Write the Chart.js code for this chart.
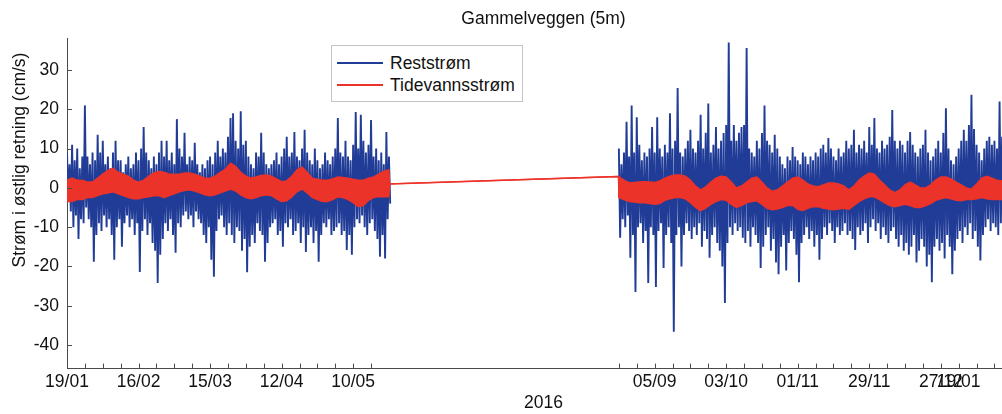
<!DOCTYPE html>
<html>
<head>
<meta charset="utf-8">
<title>Gammelveggen (5m)</title>
<script src="https://cdn.jsdelivr.net/npm/chart.js@4.4.1/dist/chart.umd.min.js"></script>
<style>
  html, body { margin: 0; padding: 0; background: #fff; overflow: hidden; }
  #wrap { position: relative; width: 1002px; height: 414px; overflow: hidden; }
  #c { position: absolute; left: 0; top: 0; }
  #legend {
    position: absolute; left: 331px; top: 45px; width: 192px; height: 57px;
    border: 1px solid #c4c4c4; background: #fff; box-sizing: border-box;
    font: 17.5px "Liberation Sans", Arial, sans-serif; color: #111;
  }
  #legend .item { position: absolute; left: 5px; height: 20px; display: flex; align-items: center; white-space: nowrap; }
  #legend .swatch { display: inline-block; width: 46px; height: 2px; margin-right: 7px; }
</style>
</head>
<body>
<div id="wrap">
  <canvas id="c" width="1020" height="414"></canvas>
  <div id="legend"></div>
</div>
<script>
// Residual current (Reststrøm), cm/s: daily upper and lower excursions.
// Deployment 1 starts 19/01 (day 0), deployment 2 starts day 216.
const restStart1 = 0;
const restHigh1 = [
  9, 6, 11, 7, 10, 5, 8, 21, 8, 6,
  9, 7, 13.5, 9, 12, 6, 8, 5, 9, 12,
  7, 7, 4, 6, 8, 5, 6, 9, 7, 10,
  15.5, 9, 7, 5, 8, 6, 9, 12, 8, 12,
  7, 9, 6, 17.5, 10, 8, 14, 6, 8, 7,
  11.5, 6, 4, 6, 5, 7, 8, 6, 9, 12,
  8, 10, 9, 13, 17.8, 19, 12, 10, 19.5, 11,
  12, 8, 6, 5, 9, 8, 14, 9, 6, 5,
  6, 7, 9, 6, 8, 10, 13, 8, 9, 14.2,
  8, 7, 10, 14.8, 9, 7, 6, 10, 7, 5,
  6, 9, 7, 6, 8, 10, 17.8, 9, 8, 12,
  8, 7, 11, 19.3, 10, 18.6, 12, 9, 11, 17.3,
  8, 10, 7, 9, 6, 14.2, 8
];
const restLow1 = [
  -3, -6, -10, -7, -13, -8, -9, -5, -8, -10,
  -18.8, -12, -9, -11, -7, -10, -8, -12, -18.3, -10,
  -8, -15, -9, -7, -10, -8, -12, -9, -21.4, -11,
  -8, -12, -9, -14, -16, -24.2, -17, -13, -9, -11,
  -8, -12, -16.5, -9, -10, -7, -6, -8, -7, -10,
  -6, -8, -9, -12, -14, -10, -18.3, -22.6, -11, -8,
  -7, -10, -12, -9, -12, -14, -10, -11, -16, -13,
  -21.5, -15, -12, -14, -9, -11, -12, -18.8, -14, -10,
  -9, -8, -12, -11, -15, -9, -10, -8, -12, -11,
  -9, -14, -10, -16.3, -12, -10, -14, -11, -18.8, -12,
  -9, -10, -8, -12, -11, -10, -9, -12, -11, -15.8,
  -12, -17, -10, -8, -9, -7, -10, -12, -9, -8,
  -11, -13, -17.5, -12, -18, -8, -4
];
const restStart2 = 216;
const restHigh2 = [
  10, 6, 9, 16.8, 8, 21, 9, 18, 11, 7,
  9, 8, 10, 15.5, 9, 18, 10, 8, 11, 9,
  19, 10, 12, 25.4, 9, 8, 10, 12, 14.8, 10,
  9, 12, 18.6, 10, 14, 21.5, 9, 11, 15.5, 10,
  12, 14, 16, 37, 12, 16, 12, 14, 15.5, 16,
  35.6, 10, 9, 8, 12, 10, 14, 21, 12, 11,
  9, 13.5, 10, 8, 6, 5, 8, 7, 10.4, 8,
  7, 6, 9, 8, 6, 8, 7, 9, 8, 10,
  11, 9, 12.7, 10, 8, 7, 10, 8, 9, 12,
  10, 11, 14.8, 9, 11, 10, 12, 9, 15.5, 11,
  17.8, 10, 9, 12, 10, 11, 13, 19.8, 12, 10,
  12, 11, 9, 12, 14.2, 11, 9, 8, 10, 11,
  14.8, 9, 7, 8, 10, 12, 9, 14, 20.3, 10,
  7, 6, 8, 10, 12, 14.8, 12, 16, 23.7, 15,
  11, 9, 7, 10, 12, 13, 11, 12, 10, 22,
  13, 12
];
const restLow2 = [
  -12.7, -8, -10, -7, -17.8, -12, -26.5, -10, -9, -14,
  -11, -24.2, -10, -12, -25.2, -11, -9, -20.4, -12, -10,
  -14, -36.6, -12, -10, -20, -12, -9, -11, -13, -10,
  -12, -9, -15, -11, -13, -17.8, -12, -10, -14, -16,
  -20, -29.3, -14, -10, -12, -9, -11, -10, -12.7, -14,
  -11, -15, -10, -12, -14, -20.4, -15, -12, -10, -16,
  -13, -19, -22, -15, -12, -21, -14, -11, -13, -17,
  -24, -14, -12, -10, -13, -11, -15, -12, -18.3, -13,
  -10, -12, -9, -11, -14, -10, -12, -11, -9, -12,
  -11, -13, -15.8, -10, -12, -11, -9, -14, -10, -8,
  -11, -9, -13, -10, -12, -14, -11, -10, -13, -15,
  -12, -16, -14, -17, -15, -12, -19, -16, -13, -15,
  -20, -17, -24, -15, -13, -16, -14, -18, -12, -15,
  -22, -16, -13, -11, -14, -10, -12, -9, -13, -11,
  -15, -18.5, -12, -10, -8, -11, -9, -10, -12, -9,
  -11, -10
];

// Tidal current (Tidevannsstrøm), cm/s: envelope of the tidal signal every 2 days.
const tideStep = 2;
const tideUpper1 = [
  2, 2.5, 2, 2, 1.5, 1.5, 2.5, 3.5, 4.5, 5,
  4, 3.5, 3, 2, 1.5, 2, 3, 3.8, 4.2, 4,
  3.5, 3.5, 3.5, 3.8, 3.8, 3.5, 3, 2.5, 2.5, 3,
  4, 4.8, 6.3, 5.5, 4, 3, 2.5, 2.8, 3.2, 3.3,
  3, 2.3, 1.6, 1.8, 3, 4.6, 5.3, 4, 2.5, 2.2,
  2, 2, 2.3, 2.8, 2.7, 2.5, 2.2, 2, 2, 2.5,
  2.8, 3.5, 4.3, 4.6
];
const tideLower1 = [
  -3.5, -3.5, -3, -3, -2.5, -2.5, -2, -1.5, -1.3, -1,
  -1.5, -2, -2.5, -2.8, -2.8, -2.5, -2.3, -2, -2, -2.5,
  -2, -1.5, -1, -0.7, -0.5, -0.8, -1.3, -1.8, -2, -1.8,
  -1.3, -0.8, -0.3, -0.8, -1.8, -2.5, -2.8, -2.5, -2, -1.8,
  -2, -2.8, -3.5, -3.3, -2.3, -1, -0.3, -1.3, -2.5, -3,
  -3.5, -3.5, -3, -2.3, -2.5, -3, -3.8, -4.8, -4.5, -3.2,
  -2.5, -2.2, -2.3, -2.3
];
const tideUpper2 = [
  2.8, 2, 1.3, 1.4, 1.5, 1.6, 1.5, 1.4, 1.8, 2.5,
  3, 3.3, 3.3, 3, 2, 0.5, -0.5, 0.3, 1.5, 2.5,
  3, 2.8, 1.5, 0, 0.5, 1.5, 2.5, 2.8, 1.5, 0,
  -0.8, -0.5, 0.5, 1.5, 2.5, 2.8, 2, 1, 0.5, 0.3,
  0.8, 1.3, 1.3, 1, 0.5, -0.5, 0.5, 2, 3, 3.8,
  3.5, 2, 0.8, -0.5, -1.2, -0.5, 0.8, 1.5, 0.8, 0,
  0, 0.8, 2, 2.8, 2.8, 2.3, 1.5, 0.8, 0, -0.3,
  1, 2.5, 3, 2.5, 2, 1.8
];
const tideLower2 = [
  -2.5, -3, -3.5, -3.6, -3.8, -3.8, -4, -4.2, -4, -3.2,
  -2.8, -2.5, -2.5, -2.8, -3.8, -5, -5.8, -5.2, -4.2, -3.5,
  -3, -3.2, -4.2, -5, -4.5, -3.8, -3.5, -3.3, -4.2, -5.2,
  -5.6, -5.4, -5, -4.5, -4.5, -5.5, -5.8, -5.2, -4.8, -4.8,
  -5.2, -5.4, -5.6, -5.4, -5.2, -5.5, -4.5, -3.5, -2.8, -2.3,
  -2.3, -3, -3.8, -4.5, -4.8, -4.5, -4.2, -4.5, -5, -5,
  -4.6, -4, -3.2, -2.8, -2.5, -2.8, -3.2, -3.3, -3, -3,
  -2.8, -2.5, -2.8, -3, -3, -3
];
// Tidal model across the data gap (single line between the deployments).
const tideLinkDays = [126.3, 215.8];
const tideLinkValues = [1.0, 2.9];

// Axis ticks (days since 19/01/2016) and labels.
const weekTicks = [
  0, 7, 14, 21, 28, 35, 42, 49, 56, 63, 70, 77, 84, 91, 98, 105, 112, 119,
  216, 223, 230, 237, 244, 251, 258, 265, 272, 279, 286, 293, 300, 307, 314,
  321, 328, 335, 342, 349, 356, 363, 370
];
const labelDays = [0, 28, 56, 84, 112, 230, 258, 286, 314, 342, 349];
const labelTexts = ['19/01', '16/02', '15/03', '12/04', '10/05', '05/09', '03/10', '01/11', '29/11', '27/12', '19/01'];
const yTicks = [-40, -30, -20, -10, 0, 10, 20, 30];
const yAxisTitle = 'Strøm i østlig retning (cm/s)';

const BLUE = '#203c96';
const RED = '#ec3329';
const AXIS = '#4a4a4a';
const TEXT = '#111';
const FAMILY = '"Liberation Sans", Arial, sans-serif';
const FONT = { family: FAMILY, size: 17.5, weight: 'normal', lineHeight: 1.2 };

function restPoints(start, highs, lows) {
  const pts = [];
  highs.forEach((h, i) => {
    pts.push({ x: start + i, y: h });
    pts.push({ x: start + i + 0.5, y: lows[i] });
  });
  return pts;
}
function tidePoints(start, vals) {
  return vals.map((v, i) => ({ x: start + i * tideStep, y: v }));
}
function tideSeries(seg1, seg2) {
  return [
    ...tidePoints(restStart1, seg1),
    { x: tideLinkDays[0], y: tideLinkValues[0] },
    { x: tideLinkDays[1], y: tideLinkValues[1] },
    ...tidePoints(restStart2, seg2)
  ];
}

const restData = [
  ...restPoints(restStart1, restHigh1, restLow1),
  { x: (tideLinkDays[0] + tideLinkDays[1]) / 2, y: null },
  ...restPoints(restStart2, restHigh2, restLow2)
];

// Small inward tick marks on both axes.
const inwardTicks = {
  id: 'inwardTicks',
  afterDatasetsDraw(chart) {
    const { ctx, chartArea: a, scales: { x, y } } = chart;
    ctx.save();
    ctx.strokeStyle = AXIS;
    ctx.lineWidth = 1;
    ctx.beginPath();
    x.ticks.forEach(t => {
      const px = Math.round(x.getPixelForValue(t.value)) + 0.5;
      ctx.moveTo(px, a.bottom);
      ctx.lineTo(px, a.bottom - 5);
    });
    y.ticks.forEach(t => {
      const py = Math.round(y.getPixelForValue(t.value)) + 0.5;
      ctx.moveTo(a.left, py);
      ctx.lineTo(a.left + 5, py);
    });
    ctx.stroke();
    ctx.restore();
  }
};

// Vertical axis title, drawn rotated beside the y axis.
const yAxisLabel = {
  id: 'yAxisLabel',
  afterDraw(chart) {
    const { ctx } = chart;
    ctx.save();
    ctx.translate(20, 160);
    ctx.rotate(-Math.PI / 2);
    ctx.font = `${FONT.size}px ${FAMILY}`;
    ctx.fillStyle = TEXT;
    ctx.textAlign = 'center';
    ctx.textBaseline = 'middle';
    ctx.fillText(yAxisTitle, 0, 0);
    ctx.restore();
  }
};

const chart = new Chart(document.getElementById('c'), {
  type: 'line',
  data: {
    datasets: [
      { label: 'Tidevannsstrøm', data: tideSeries(tideUpper1, tideUpper2), borderColor: RED, backgroundColor: RED,
        borderWidth: 1.3, fill: '+1', pointRadius: 0, tension: 0 },
      { label: 'Tidevannsstrøm (min)', data: tideSeries(tideLower1, tideLower2), borderColor: RED, backgroundColor: RED,
        borderWidth: 1.3, fill: false, pointRadius: 0, tension: 0 },
      { label: 'Reststrøm', data: restData, borderColor: BLUE, backgroundColor: BLUE,
        borderWidth: 1.9, fill: false, pointRadius: 0, tension: 0, spanGaps: false }
    ]
  },
  options: {
    responsive: false,
    animation: false,
    devicePixelRatio: 1,
    layout: { padding: 0 },
    plugins: {
      legend: { display: false },
      tooltip: { enabled: false },
      title: {
        display: true, text: 'Gammelveggen (5m)', fullSize: false,
        font: FONT, color: TEXT, padding: { top: 9, bottom: 8.6 }
      }
    },
    scales: {
      x: {
        type: 'linear', min: 0, max: 373,
        afterBuildTicks: s => { s.ticks = weekTicks.map(v => ({ value: v })); },
        afterFit: s => { s.height = 45.4; },
        ticks: {
          autoSkip: false, maxRotation: 0, padding: 3, font: FONT, color: TEXT,
          callback: v => { const k = labelDays.indexOf(v); return k < 0 ? '' : labelTexts[k]; }
        },
        grid: { drawOnChartArea: false, drawTicks: false },
        border: { display: true, color: AXIS, width: 1 },
        title: { display: true, text: '2016', font: FONT, color: TEXT, padding: { top: 0, bottom: 0 } }
      },
      y: {
        min: -46, max: 38,
        afterBuildTicks: s => { s.ticks = yTicks.map(v => ({ value: v })); },
        afterFit: s => { s.width = 67; },
        ticks: { padding: 8, font: FONT, color: TEXT },
        grid: { drawOnChartArea: false, drawTicks: false },
        border: { display: true, color: AXIS, width: 1 }
      }
    }
  },
  plugins: [inwardTicks, yAxisLabel]
});

// Legend box built from the dataset labels and colours.
const legendEl = document.getElementById('legend');
[2, 0].forEach((di, k) => {
  const ds = chart.data.datasets[di];
  const item = document.createElement('div');
  item.className = 'item';
  item.style.top = (7 + k * 22) + 'px';
  const sw = document.createElement('span');
  sw.className = 'swatch';
  sw.style.background = ds.borderColor;
  const tx = document.createElement('span');
  tx.textContent = ds.label;
  item.appendChild(sw);
  item.appendChild(tx);
  legendEl.appendChild(item);
});
</script>
</body>
</html>
